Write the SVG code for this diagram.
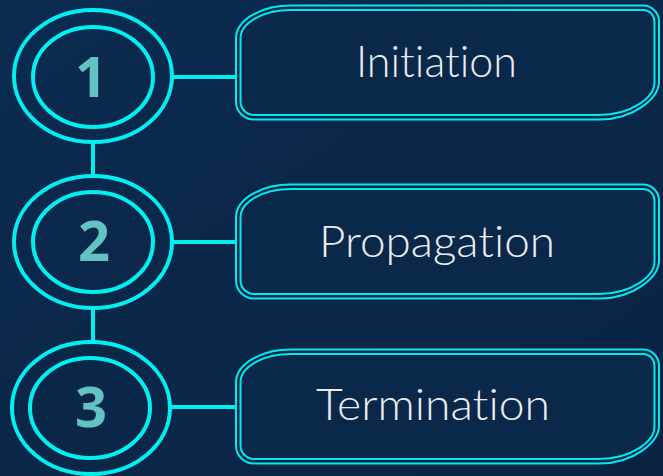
<svg xmlns="http://www.w3.org/2000/svg" width="663" height="476" viewBox="0 0 663 476">
<defs>
<linearGradient id="bg" x1="0" y1="0" x2="1" y2="1">
<stop offset="0" stop-color="#0b2b50"/>
<stop offset="1" stop-color="#0a2343"/>
</linearGradient>
<path id="boxOuter" d="M0,33 A55,33 0 0 1 55,0 L407,0 A16,16 0 0 1 423,16 L423,76 C423,93 397,114 364,114 L18,114 A18,18 0 0 1 0,96 Z"/>
<path id="boxInner" d="M4.5,33 A50.5,28.5 0 0 1 55,4.5 L407,4.5 A11.5,11.5 0 0 1 418.5,16 L418.5,77 C418.5,92 395,109.5 363,109.5 L18,109.5 A13.5,13.5 0 0 1 4.5,96 Z"/>
</defs>
<style>
.ring{fill:none;stroke:#00f0f2;stroke-width:4}
.conn{stroke:#00f0f2;stroke-width:4;fill:none}
.bo{fill:#0a2849;stroke:#00eaf0;stroke-width:2}
.bi{fill:none;stroke:#00eaf0;stroke-width:2}
.num{font-family:"Open Sans","DejaVu Sans",sans-serif;font-weight:700;font-size:56px;fill:#62c2c4;text-anchor:middle}
.lbl{font-family:Lato,"Open Sans",sans-serif;font-weight:300;font-size:44px;fill:#ececf0;text-anchor:middle;font-variant-ligatures:none;font-feature-settings:"liga" 0}
</style>
<rect width="663" height="476" fill="url(#bg)"/>
<g id="connectors">
<line class="conn" x1="173" y1="77" x2="237" y2="77"/>
<line class="conn" x1="173" y1="242" x2="237" y2="242"/>
<line class="conn" x1="171" y1="407" x2="237" y2="407"/>
<line class="conn" x1="93" y1="141" x2="93" y2="177"/>
<line class="conn" x1="93" y1="307" x2="93" y2="343"/>
</g>
<g id="node1">
<ellipse class="ring" cx="93" cy="76" rx="79" ry="66"/>
<ellipse class="ring" cx="93" cy="77" rx="60" ry="50"/>
<text class="num" x="91" y="97">1</text>
</g>
<g id="node2">
<ellipse class="ring" cx="93" cy="242" rx="79" ry="66"/>
<ellipse class="ring" cx="93" cy="242" rx="60" ry="50"/>
<text class="num" x="94" y="261">2</text>
</g>
<g id="node3">
<ellipse class="ring" cx="91" cy="408" rx="79" ry="66"/>
<ellipse class="ring" cx="90" cy="408" rx="60" ry="50"/>
<text class="num" x="91" y="427">3</text>
</g>
<g id="box1" transform="translate(236,5.5)">
<use href="#boxOuter" class="bo"/>
<use href="#boxInner" class="bi"/>
<text class="lbl" x="200.5" y="71.5" textLength="161" lengthAdjust="spacingAndGlyphs">Initiation</text>
</g>
<g id="box2" transform="translate(236,184.5)">
<use href="#boxOuter" class="bo"/>
<use href="#boxInner" class="bi"/>
<text class="lbl" x="201" y="72.5" textLength="236" lengthAdjust="spacingAndGlyphs">Propagation</text>
</g>
<g id="box3" transform="translate(236,349.5)">
<use href="#boxOuter" class="bo"/>
<use href="#boxInner" class="bi"/>
<text class="lbl" x="197" y="70.5" textLength="234" lengthAdjust="spacingAndGlyphs">Termination</text>
</g>
</svg>
